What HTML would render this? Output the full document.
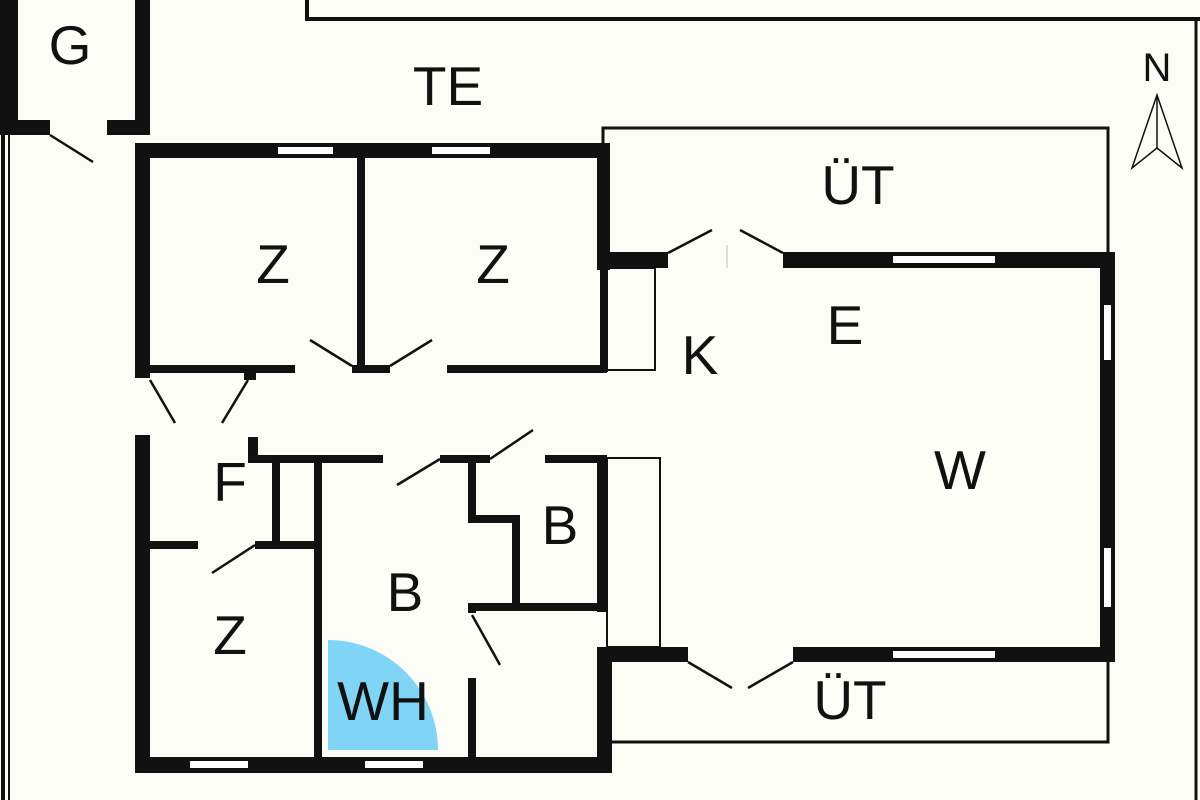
<!DOCTYPE html>
<html><head><meta charset="utf-8"><style>
html,body{margin:0;padding:0;background:#fdfdf8;}
svg{display:block}
text{font-family:"Liberation Sans",sans-serif;fill:#111;text-anchor:middle;dominant-baseline:central}
</style></head><body>
<svg width="1200" height="800" viewBox="0 0 1200 800" xmlns="http://www.w3.org/2000/svg">
<rect width="1200" height="800" fill="#fdfdf8"/>
<g fill="none" stroke="#111">
<path d="M307 0 V19 H1200" stroke-width="4"/>
<line x1="3" y1="135" x2="3" y2="800" stroke-width="4"/>
<line x1="9" y1="135" x2="9" y2="800" stroke-width="2"/>
<line x1="1196" y1="19" x2="1196" y2="800" stroke-width="3"/>
<path d="M603 252 V128 H1108 V252" stroke-width="3"/>
<path d="M608 662 V742 H1108 V662" stroke-width="3"/>
<rect x="607" y="268" width="48" height="102" stroke-width="2"/>
<rect x="607" y="458" width="53" height="189" stroke-width="2"/>
<line x1="727" y1="245" x2="727" y2="268" stroke-width="1" stroke="#bbb"/>
</g>
<path d="M328 750 V640 A110 110 0 0 1 438 750 Z" fill="#80d4f6"/>
<g fill="#111">
<rect x="0" y="0" width="18" height="135"/>
<rect x="135" y="0" width="15" height="135"/>
<rect x="0" y="120" width="50" height="15"/>
<rect x="107" y="120" width="43" height="15"/>
<rect x="135" y="143" width="475" height="15"/>
<rect x="135" y="143" width="15" height="235"/>
<rect x="135" y="435" width="15" height="338"/>
<rect x="357" y="150" width="8" height="222"/>
<rect x="597" y="143" width="13" height="127"/>
<rect x="600" y="260" width="8" height="112"/>
<rect x="150" y="365" width="145" height="8"/>
<rect x="352" y="365" width="38" height="8"/>
<rect x="447" y="365" width="160" height="8"/>
<rect x="244" y="373" width="12" height="7"/>
<rect x="248" y="437" width="10" height="26"/>
<rect x="597" y="252" width="71" height="16"/>
<rect x="783" y="252" width="332" height="16"/>
<rect x="1100" y="252" width="15" height="410"/>
<rect x="597" y="647" width="91" height="15"/>
<rect x="793" y="647" width="322" height="15"/>
<rect x="597" y="647" width="15" height="126"/>
<rect x="597" y="455" width="10" height="157"/>
<rect x="135" y="757" width="477" height="16"/>
<rect x="248" y="455" width="135" height="8"/>
<rect x="440" y="455" width="50" height="8"/>
<rect x="545" y="455" width="62" height="8"/>
<rect x="272" y="463" width="8" height="82"/>
<rect x="314" y="463" width="8" height="294"/>
<rect x="150" y="541" width="48" height="8"/>
<rect x="255" y="541" width="67" height="8"/>
<rect x="468" y="463" width="8" height="57"/>
<rect x="468" y="515" width="52" height="8"/>
<rect x="512" y="515" width="8" height="96"/>
<rect x="468" y="603" width="139" height="8"/>
<rect x="468" y="603" width="8" height="10"/>
<rect x="468" y="678" width="8" height="80"/>
</g>
<g fill="#fff">
<rect x="278" y="147" width="55" height="7"/>
<rect x="432" y="147" width="58" height="7"/>
<rect x="893" y="256" width="102" height="7"/>
<rect x="893" y="651" width="102" height="7"/>
<rect x="1104" y="305" width="7" height="55"/>
<rect x="1104" y="548" width="7" height="59"/>
<rect x="190" y="761" width="58" height="7"/>
<rect x="365" y="761" width="58" height="7"/>
</g>
<g stroke="#111" stroke-width="2.5" fill="none">
<line x1="50" y1="135" x2="93" y2="162"/>
<line x1="352" y1="366" x2="310" y2="340"/>
<line x1="390" y1="366" x2="432" y2="340"/>
<line x1="668" y1="253" x2="712" y2="230"/>
<line x1="783" y1="253" x2="740" y2="230"/>
<line x1="688" y1="662" x2="732" y2="688"/>
<line x1="793" y1="662" x2="748" y2="688"/>
<line x1="150" y1="380" x2="175" y2="423"/>
<line x1="248" y1="380" x2="222" y2="423"/>
<line x1="255" y1="545" x2="212" y2="573"/>
<line x1="440" y1="459" x2="397" y2="485"/>
<line x1="490" y1="459" x2="533" y2="430"/>
<line x1="472" y1="615" x2="500" y2="665"/>
</g>
<g stroke="#111" stroke-width="1.5" fill="none">
<path d="M1157 95 L1132 168 L1157 148 L1182 168 Z"/>
<line x1="1157" y1="95" x2="1157" y2="148"/>
</g>
<text x="1157" y="68" font-size="40">N</text>
<g font-size="55">
<text x="70" y="45">G</text>
<text x="448" y="86">TE</text>
<text x="858" y="185">ÜT</text>
<text x="273" y="264">Z</text>
<text x="493" y="264">Z</text>
<text x="700" y="355">K</text>
<text x="845" y="325">E</text>
<text x="960" y="470">W</text>
<text x="230" y="482">F</text>
<text x="560" y="525">B</text>
<text x="405" y="592">B</text>
<text x="230" y="635">Z</text>
<text x="383" y="701">WH</text>
<text x="850" y="700">ÜT</text>
</g>
</svg>
</body></html>
